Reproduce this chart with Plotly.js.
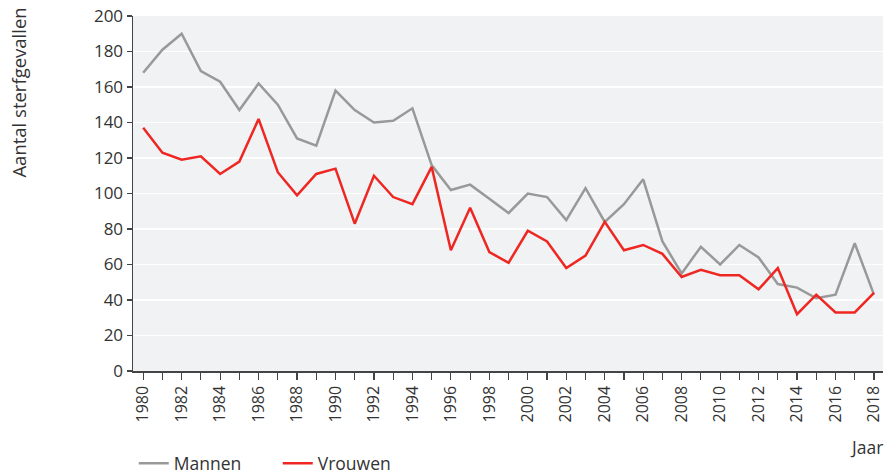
<!DOCTYPE html>
<html>
<head>
<meta charset="utf-8">
<script src="https://cdn.plot.ly/plotly-3.0.1.min.js"></script>
<style>html,body{margin:0;padding:0;background:#fff;}#chart{width:887px;height:475px;}</style>
</head>
<body>
<div id="chart"></div>
<script>
const years = [1980,1981,1982,1983,1984,1985,1986,1987,1988,1989,1990,1991,1992,1993,1994,1995,1996,1997,1998,1999,2000,2001,2002,2003,2004,2005,2006,2007,2008,2009,2010,2011,2012,2013,2014,2015,2016,2017,2018];
const mannen = [168,181,190,169,163,147,162,150,131,127,158,147,140,141,148,116,102,105,97,89,100,98,85,103,84,94,108,73,55,70,60,71,64,49,47,41,43,72,43];
const vrouwen = [137,123,119,121,111,118,142,112,99,111,114,83,110,98,94,115,68,92,67,61,79,73,58,65,84,68,71,66,53,57,54,54,46,58,32,43,33,33,44];
const seriesNames = ["Mannen","Vrouwen"];
const tickYears = years.filter(y => y % 2 === 0);
const tickLabels = tickYears.map(String);

const font = "Open Sans, Lato, sans-serif";
const traces = [
  {x: years, y: mannen, name: seriesNames[0], type: "scatter", mode: "lines",
   line: {color: "#999999", width: 2.5}},
  {x: years, y: vrouwen, name: seriesNames[1], type: "scatter", mode: "lines",
   line: {color: "#ee2722", width: 2.5}}
];
const layout = {
  width: 887, height: 475,
  margin: {l: 133, r: 4, t: 16, b: 104, autoexpand: false},
  paper_bgcolor: "#ffffff",
  plot_bgcolor: "#f1f2f4",
  font: {family: font, color: "#333333", size: 14},
  showlegend: true,
  legend: {orientation: "h", x: 0.001, xanchor: "left", y: -0.26, yanchor: "middle",
           font: {size: 17.5, color: "#333"}, itemwidth: 30, tracegroupgap: 0,
           entrywidth: 99, entrywidthmode: "pixels"},
  xaxis: {
    range: [1979.47, 2018.47], automargin: false,
    tickmode: "array", tickvals: tickYears, ticktext: tickLabels,
    tickangle: -90, tickfont: {size: 16, color: "#333"},
    showgrid: false, zeroline: false,
    showline: true, linecolor: "#444", linewidth: 1.5,
    ticks: "outside", ticklen: 7, tickcolor: "#444", tickwidth: 1.2,
    minor: {tickmode: "array", tickvals: years, ticks: "outside", ticklen: 7, tickcolor: "#444", tickwidth: 1.2, showgrid: false}
  },
  yaxis: {
    range: [0, 200], automargin: false, tickmode: "array", tickvals: [0,20,40,60,80,100,120,140,160,180,200],
    tickfont: {size: 17, color: "#333"},
    showgrid: true, gridcolor: "#ffffff", gridwidth: 1.5, zeroline: false,
    showline: true, linecolor: "#444", linewidth: 1.5,
    ticks: "outside", ticklen: 5, tickcolor: "#444", tickwidth: 1.2
  },
  annotations: [
    {text: "Aantal sterfgevallen", textangle: -90, xref: "paper", yref: "paper",
     x: -0.153, y: 1.03, xanchor: "center", yanchor: "top", showarrow: false,
     font: {size: 18.5, color: "#333"}},
    {text: "Jaar", xref: "paper", yref: "paper", x: 1.003, y: -0.215, xanchor: "right", yanchor: "middle",
     showarrow: false, font: {size: 17.5, color: "#333"}}
  ]
};
Plotly.newPlot("chart", traces, layout, {staticPlot: true, displayModeBar: false});
</script>
</body>
</html>
